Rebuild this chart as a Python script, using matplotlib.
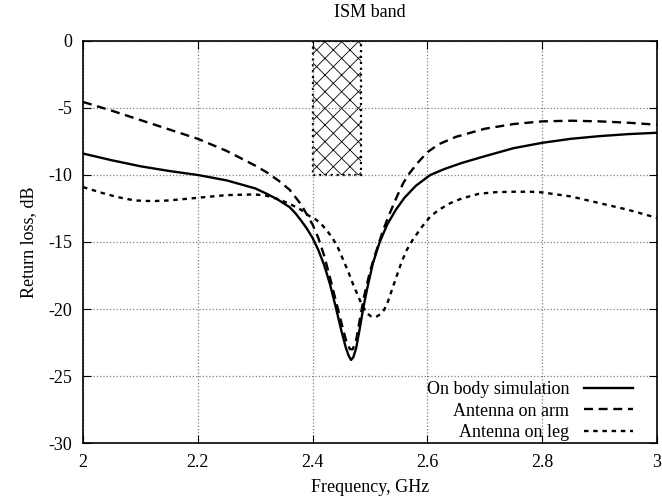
import matplotlib
matplotlib.use("Agg")
from matplotlib import pyplot as plt
from matplotlib.patches import Rectangle

plt.rcParams['font.family'] = ['Liberation Serif', 'DejaVu Serif']
plt.rcParams['axes.unicode_minus'] = False
plt.rcParams['hatch.linewidth'] = 0.6

# data
freq_body = [2.00, 2.05, 2.10, 2.15, 2.20, 2.25, 2.30, 2.32, 2.34, 2.36, 2.37,
             2.38, 2.39, 2.40, 2.41, 2.42, 2.43, 2.44, 2.45, 2.458, 2.463,
             2.467, 2.471, 2.476, 2.482, 2.488, 2.495, 2.505, 2.517, 2.53,
             2.545, 2.56, 2.58, 2.605, 2.63, 2.66, 2.70, 2.75, 2.80, 2.85,
             2.90, 2.95, 3.00]
loss_body = [-8.4, -8.9, -9.35, -9.7, -10.0, -10.4, -11.0, -11.4, -11.85,
             -12.4, -12.85, -13.4, -14.0, -14.7, -15.6, -16.7, -18.1, -19.8,
             -21.6, -22.9, -23.5, -23.8, -23.6, -22.9, -21.5, -20.0, -18.5,
             -16.6, -15.0, -13.7, -12.6, -11.7, -10.8, -10.0, -9.55, -9.1,
             -8.6, -8.0, -7.6, -7.3, -7.1, -6.95, -6.85]

freq_arm = [2.00, 2.05, 2.10, 2.15, 2.20, 2.25, 2.30, 2.32, 2.34, 2.36, 2.38,
            2.40, 2.41, 2.42, 2.43, 2.44, 2.45, 2.458, 2.465, 2.47, 2.476,
            2.483, 2.49, 2.50, 2.51, 2.523, 2.535, 2.547, 2.558, 2.57, 2.585,
            2.60, 2.62, 2.65, 2.70, 2.75, 2.80, 2.85, 2.90, 2.95, 3.00]
loss_arm = [-4.55, -5.2, -5.9, -6.6, -7.3, -8.2, -9.3, -9.8, -10.4, -11.1,
            -12.2, -13.7, -14.7, -16.0, -17.6, -19.3, -21.0, -22.3, -23.0,
            -23.0, -22.3, -20.6, -19.0, -17.2, -15.8, -14.1, -12.8, -11.6,
            -10.6, -9.8, -9.0, -8.3, -7.7, -7.15, -6.55, -6.2, -6.0, -5.95,
            -6.0, -6.1, -6.25]

freq_leg = [2.00, 2.03, 2.06, 2.09, 2.12, 2.15, 2.20, 2.25, 2.30, 2.32, 2.34,
            2.36, 2.38, 2.392, 2.405, 2.416, 2.426, 2.436, 2.445, 2.453, 2.462,
            2.47, 2.478, 2.485, 2.494, 2.502, 2.51, 2.518, 2.524, 2.53, 2.538,
            2.546, 2.555, 2.564, 2.575, 2.59, 2.605, 2.62, 2.64, 2.66, 2.69,
            2.72, 2.75, 2.78, 2.80, 2.85, 2.90, 2.95, 3.00]
loss_leg = [-10.9, -11.3, -11.65, -11.9, -11.95, -11.9, -11.7, -11.5, -11.45,
            -11.55, -11.8, -12.15, -12.6, -13.0, -13.3, -13.7, -14.2, -14.8,
            -15.5, -16.3, -17.2, -18.1, -18.9, -19.6, -20.3, -20.55, -20.6,
            -20.4, -20.1, -19.6, -18.6, -17.6, -16.5, -15.6, -14.8, -13.9,
            -13.1, -12.6, -12.1, -11.75, -11.4, -11.28, -11.25, -11.25, -11.3,
            -11.6, -12.1, -12.6, -13.2]

ism_band = (2.4, 2.4835)
ism_level = -10

fig = plt.figure(figsize=(6.62, 5.04), dpi=100)
ax = fig.add_axes([0.1254, 0.121, 0.867, 0.7977])

# ISM band box
ax.add_patch(Rectangle((ism_band[0], ism_level), ism_band[1] - ism_band[0], -ism_level,
                       facecolor='none', edgecolor='black', hatch='xx',
                       linestyle=':', linewidth=1.6, zorder=1))

ax.plot(freq_body, loss_body, color='black', lw=1.7, label='On body simulation', zorder=3)
ax.plot(freq_arm, loss_arm, color='black', lw=1.7, dashes=(3.8, 2.4),
        label='Antenna on arm', zorder=3)
ax.plot(freq_leg, loss_leg, color='black', lw=1.7, dashes=(1.9, 2.0),
        label='Antenna on leg', zorder=3)

ax.set_xlim(2, 3)
ax.set_ylim(-30, 0)
ax.set_xticks([2, 2.2, 2.4, 2.6, 2.8, 3])
ax.set_xticklabels(['2', '2.2', '2.4', '2.6', '2.8', '3'])
ax.set_yticks(range(-30, 1, 5))
ax.tick_params(direction='in', top=True, right=True, labelsize=13, length=6, pad=8)
ax.grid(True, color='gray', linestyle=':', linewidth=0.9)
for s in ax.spines.values():
    s.set_linewidth(1.2)

ax.set_xlabel('Frequency, GHz', fontsize=13, labelpad=6)
ax.set_ylabel('Return loss, dB', fontsize=13, labelpad=8)
ax.set_title('ISM band', fontsize=13, pad=17)

ax.legend(loc='lower right', bbox_to_anchor=(0.975, -0.02), frameon=False,
          markerfirst=False, fontsize=13, handlelength=2.7, labelspacing=0.25,
          handletextpad=0.8, borderaxespad=0.15)

fig.savefig('out.png', dpi=100)
